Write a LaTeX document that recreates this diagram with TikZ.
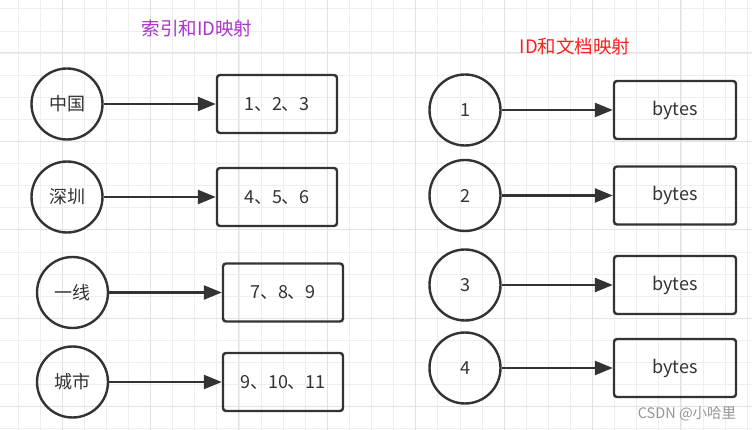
\documentclass[tikz,border=0pt]{standalone}
\usepackage{fontspec}
\setmainfont{Noto Sans CJK SC}
\usetikzlibrary{arrows.meta}
\definecolor{inkgray}{RGB}{51,51,51}
\definecolor{gridminor}{RGB}{238,238,238}
\definecolor{gridmajor}{RGB}{226,226,226}
\definecolor{titlepurple}{RGB}{170,51,200}
\definecolor{titlered}{RGB}{255,30,30}
\tikzset{
  keycircle/.style={circle, draw=inkgray, line width=2.4pt, minimum size=71pt, inner sep=0pt, text=inkgray, font=\fontsize{18}{21}\selectfont},
  valbox/.style={rectangle, rounded corners=3pt, draw=inkgray, line width=2.4pt, minimum width=120pt, minimum height=58pt, inner sep=0pt, text=inkgray, font=\fontsize{18}{21}\selectfont},
  maparrow/.style={draw=inkgray, line width=2.4pt, -{Triangle[length=18pt,width=14pt]}},
  maptitle/.style={inner sep=0pt, font=\fontsize{18.5}{22}\selectfont}
}
\begin{document}
\begin{tikzpicture}[x=1pt,y=1pt,yscale=-1,xscale=1]
\useasboundingbox (0,0) rectangle (752,430);
\fill [white] (0,0) rectangle (752,430);
% grid
\foreach \i in {0,...,33} \draw [gridminor, line width=1pt] (18+22.1*\i,0) -- (18+22.1*\i,430);
\foreach \j in {0,...,19} \draw [gridminor, line width=1pt] (0,9+22.1*\j) -- (752,9+22.1*\j);
\foreach \i in {0,...,8} \draw [gridmajor, line width=1pt] (62+88.4*\i,0) -- (62+88.4*\i,430);
\foreach \j in {0,...,4} \draw [gridmajor, line width=1pt] (0,53+88.4*\j) -- (752,53+88.4*\j);

% titles
\node [maptitle, text=titlepurple] (idxtitle) at (197,28) {索引和ID映射};
\node [maptitle, text=titlered] (doctitle) at (575,46) {ID和文档映射};

% index -> id
\node [keycircle] (zhongguo) at (67,104) {中国};
\node [keycircle] (shenzhen) at (67,197) {深圳};
\node [keycircle] (yixian) at (72.5,292.5) {一线};
\node [keycircle] (chengshi) at (72.5,382) {城市};
\node [valbox] (ids1) at (277,104) {1、2、3};
\node [valbox] (ids2) at (277,197) {4、5、6};
\node [valbox] (ids3) at (283,292.5) {7、8、9};
\node [valbox] (ids4) at (283,382) {9、10、11};
\draw [maparrow] (zhongguo) -- (ids1);
\draw [maparrow] (shenzhen) -- (ids2);
\draw [maparrow] (yixian) -- (ids3);
\draw [maparrow] (chengshi) -- (ids4);

% id -> doc
\node [keycircle] (id1) at (465,110) {1};
\node [keycircle] (id2) at (465,195.5) {2};
\node [keycircle] (id3) at (465,285) {3};
\node [keycircle] (id4) at (465,368) {4};
\node [valbox, minimum width=122pt] (doc1) at (675,110) {bytes};
\node [valbox, minimum width=122pt] (doc2) at (675,195.5) {bytes};
\node [valbox, minimum width=122pt] (doc3) at (675,285) {bytes};
\node [valbox, minimum width=122pt] (doc4) at (675,368) {bytes};
\draw [maparrow] (id1) -- (doc1);
\draw [maparrow] (id2) -- (doc2);
\draw [maparrow] (id3) -- (doc3);
\draw [maparrow] (id4) -- (doc4);

\node [inner sep=0pt, text={rgb,255:red,150;green,150;blue,150}, font=\fontsize{14.5}{17}\selectfont] (mark) at (687,414) {CSDN @小哈里};
\end{tikzpicture}
\end{document}
